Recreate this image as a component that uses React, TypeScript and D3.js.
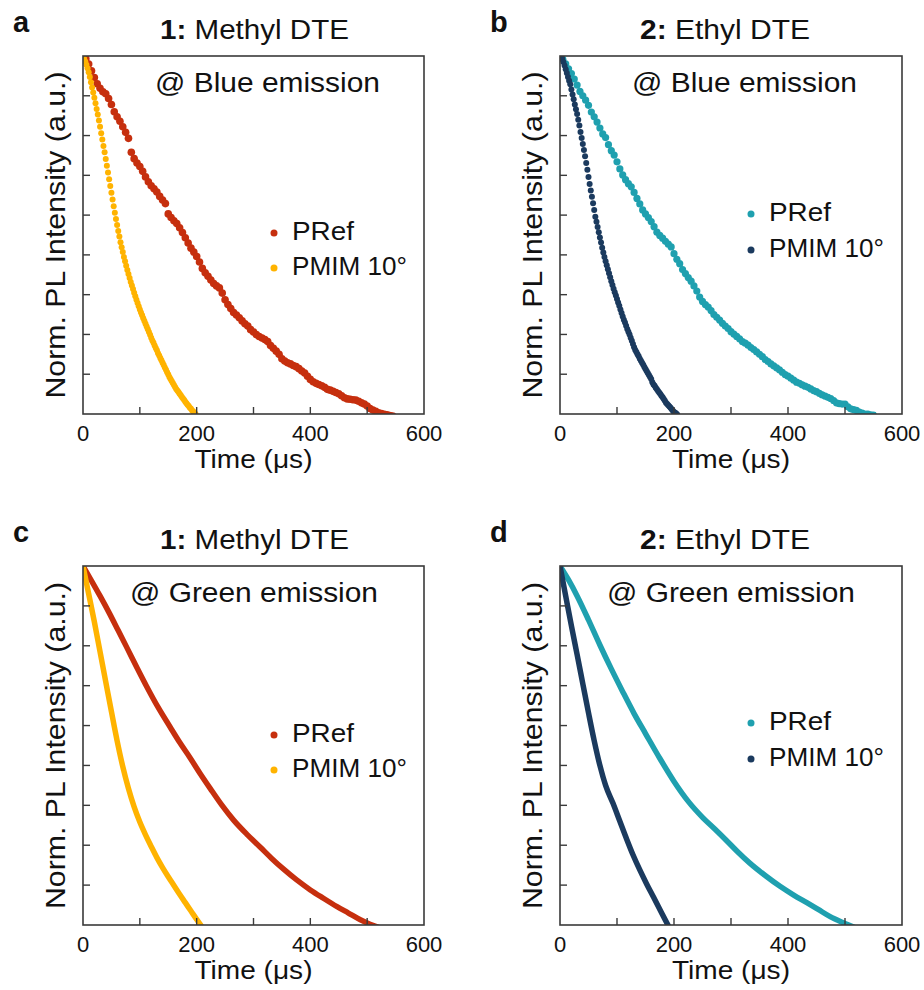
import React from "react";
import * as d3 from "d3";

// ---------- data ----------
const X_TICKS = [100, 200, 300, 400, 500];
const X_TICK_LABELS = [0, 200, 400, 600];
const Y_TICKS = [1, 2, 3, 4, 5, 6, 7, 8];
const PANEL_LETTERS = ["a", "b", "c", "d"];
const COMPOUND_IDS = ["1:", "2:", "1:", "2:"];
const COMPOUND_NAMES = [" Methyl DTE", " Ethyl DTE", " Methyl DTE", " Ethyl DTE"];
const EMISSIONS = ["@ Blue emission", "@ Blue emission", "@ Green emission", "@ Green emission"];
const SERIES_NAMES = ["PRef", "PMIM 10°"];

// Blue emission: sampled decays (normalized log intensity, 9 = top of axis)
const PREF_STEP_US = 5;
const PMIM_STEP_US = 2;

const aPRef = [
  9.0, 8.93, 8.8, 8.63, 8.46, 8.3, 8.19, 8.1, 8.05, 7.93,
  7.78, 7.6, 7.47, 7.36, 7.22, 7.08, 6.93, 6.58, 6.42, 6.31,
  6.22, 6.1, 5.96, 5.84, 5.74, 5.66, 5.58, 5.47, 5.38, 5.29,
  5.03, 4.94, 4.86, 4.79, 4.68, 4.56, 4.43, 4.3, 4.17, 4.07,
  3.96, 3.82, 3.66, 3.55, 3.46, 3.37, 3.28, 3.22, 3.17, 3.04,
  2.87, 2.75, 2.65, 2.55, 2.49, 2.42, 2.34, 2.27, 2.21, 2.12,
  2.06, 2.0, 1.95, 1.91, 1.87, 1.82, 1.72, 1.65, 1.58, 1.5,
  1.39, 1.33, 1.29, 1.26, 1.22, 1.19, 1.14, 1.08, 1.03, 0.95,
  0.87, 0.81, 0.77, 0.74, 0.71, 0.67, 0.62, 0.6, 0.57, 0.54,
  0.51, 0.46, 0.41, 0.38, 0.37, 0.36, 0.35, 0.32, 0.28, 0.25,
  0.2, 0.14, 0.1, 0.07, 0.03, 0.01, -0.01, -0.02, -0.04, -0.05,
];

const aPMIM = [
  9.0, 8.93, 8.86, 8.78, 8.69, 8.59, 8.47, 8.34, 8.21, 8.08,
  7.95, 7.81, 7.67, 7.53, 7.38, 7.22, 7.06, 6.9, 6.74, 6.58,
  6.41, 6.24, 6.07, 5.9, 5.73, 5.56, 5.39, 5.22, 5.06, 4.9,
  4.75, 4.6, 4.46, 4.32, 4.19, 4.07, 3.95, 3.84, 3.73, 3.62,
  3.52, 3.42, 3.32, 3.23, 3.14, 3.05, 2.96, 2.87, 2.79, 2.71,
  2.63, 2.55, 2.48, 2.41, 2.34, 2.27, 2.2, 2.13, 2.06, 1.99,
  1.92, 1.85, 1.79, 1.72, 1.66, 1.6, 1.53, 1.47, 1.41, 1.35,
  1.29, 1.23, 1.17, 1.11, 1.05, 0.99, 0.93, 0.88, 0.83, 0.78,
  0.73, 0.68, 0.63, 0.59, 0.55, 0.51, 0.47, 0.43, 0.39, 0.35,
  0.31, 0.27, 0.23, 0.2, 0.16, 0.13, 0.09, 0.06, 0.03, 0.0,
];

const bPRef = [
  9.0, 8.92, 8.8, 8.68, 8.56, 8.42, 8.27, 8.11, 8.0, 7.89,
  7.76, 7.59, 7.47, 7.34, 7.19, 7.04, 6.95, 6.77, 6.62, 6.51,
  6.34, 6.16, 6.01, 5.89, 5.79, 5.71, 5.57, 5.42, 5.28, 5.13,
  5.03, 4.94, 4.84, 4.71, 4.57, 4.49, 4.42, 4.34, 4.27, 4.2,
  4.03, 3.89, 3.78, 3.63, 3.53, 3.43, 3.34, 3.22, 3.09, 2.94,
  2.83, 2.75, 2.69, 2.6, 2.5, 2.43, 2.36, 2.28, 2.21, 2.15,
  2.07, 2.01, 1.95, 1.89, 1.82, 1.78, 1.73, 1.67, 1.62, 1.56,
  1.5, 1.44, 1.37, 1.32, 1.26, 1.21, 1.16, 1.11, 1.05, 0.99,
  0.95, 0.9, 0.85, 0.8, 0.77, 0.73, 0.7, 0.67, 0.63, 0.59,
  0.56, 0.52, 0.48, 0.45, 0.42, 0.39, 0.34, 0.28, 0.26, 0.25,
  0.25, 0.18, 0.13, 0.11, 0.09, 0.05, 0.02, 0.0, 0.0, -0.02,
  -0.03,
];

const bPMIM = [
  9.0, 8.98, 8.93, 8.85, 8.76, 8.67, 8.57, 8.47, 8.38, 8.29,
  8.16, 8.03, 7.91, 7.78, 7.66, 7.54, 7.4, 7.25, 7.09, 6.94,
  6.79, 6.64, 6.48, 6.31, 6.14, 5.96, 5.78, 5.62, 5.46, 5.3,
  5.13, 4.96, 4.83, 4.7, 4.57, 4.44, 4.31, 4.18, 4.06, 3.95,
  3.84, 3.74, 3.64, 3.54, 3.44, 3.34, 3.24, 3.15, 3.06, 2.98,
  2.89, 2.8, 2.72, 2.63, 2.54, 2.45, 2.37, 2.3, 2.22, 2.14,
  2.07, 2.0, 1.92, 1.84, 1.76, 1.68, 1.61, 1.56, 1.5, 1.45,
  1.39, 1.34, 1.29, 1.24, 1.18, 1.13, 1.08, 1.03, 0.98, 0.93,
  0.88, 0.8, 0.74, 0.71, 0.66, 0.62, 0.58, 0.54, 0.5, 0.46,
  0.42, 0.38, 0.33, 0.28, 0.25, 0.22, 0.19, 0.16, 0.12, 0.08,
  0.05, 0.03, 0.01, -0.02,
];

// Green emission: [time (us), normalized log intensity]
const cPRef: [number, number][] = [
  [0, 9.0], [15, 8.63], [30, 8.25], [47, 7.8], [62, 7.38], [77, 6.96], [95, 6.45],
  [112, 5.98], [132, 5.46], [153, 4.97], [170, 4.58], [188, 4.2], [206, 3.8],
  [224, 3.42], [244, 3.01], [265, 2.63], [288, 2.28], [312, 1.95], [332, 1.67],
  [353, 1.4], [376, 1.13], [400, 0.88], [423, 0.67], [447, 0.46], [467, 0.3],
  [488, 0.13], [505, 0.02], [520, -0.06],
];
const cPMIM: [number, number][] = [
  [0, 9.0], [10, 8.3], [20, 7.6], [30, 6.85], [40, 6.1], [50, 5.35], [60, 4.62],
  [70, 3.97], [80, 3.42], [90, 2.96], [100, 2.58], [110, 2.26], [120, 1.97],
  [130, 1.69], [140, 1.44], [150, 1.21], [160, 0.99], [170, 0.77], [180, 0.56],
  [190, 0.35], [200, 0.14], [208, -0.02],
];
const dPRef: [number, number][] = [
  [0, 9.0], [15, 8.65], [30, 8.25], [50, 7.65], [70, 7.02], [90, 6.42], [110, 5.85],
  [130, 5.3], [150, 4.8], [175, 4.18], [200, 3.6], [225, 3.1], [250, 2.7],
  [272, 2.4], [292, 2.12], [312, 1.83], [333, 1.55], [360, 1.24], [386, 0.97],
  [410, 0.75], [433, 0.56], [453, 0.39], [474, 0.21], [495, 0.07], [515, -0.05],
];
const dPMIM: [number, number][] = [
  [0, 9.0], [10, 8.25], [20, 7.5], [30, 6.78], [40, 6.05], [50, 5.32], [60, 4.62],
  [70, 4.0], [80, 3.5], [93, 3.05], [105, 2.6], [117, 2.15], [128, 1.76],
  [140, 1.38], [152, 1.03], [164, 0.7], [177, 0.34], [190, -0.02],
];

// ---------- styling ----------
const RED = "#C62F0E";
const YELLOW = "#FFB300";
const TEAL = "#1FA0AF";
const NAVY = "#1B3A5E";
const FONT = "'Liberation Sans', Arial, Helvetica, sans-serif";
const AXIS = "#3a3a3a";

type Geo = { left: number; top: number; w: number; h: number };
const GEOS: Geo[] = [
  { left: 83, top: 56, w: 341, h: 358 },
  { left: 560, top: 56, w: 342, h: 358 },
  { left: 83, top: 566, w: 341, h: 359 },
  { left: 560, top: 566, w: 342, h: 359 },
];
const TITLE_CX = [254.5, 725, 254.5, 725];
const TITLE_W = [189, 170, 189, 170];
const EMIS_X = [72, 72, 47, 47];
const EMIS_W = [225, 225, 248, 248];
const LEGEND_BASE = [
  [184, 219],
  [165, 201],
  [176, 211],
  [164, 200],
];

const toPts = (vals: number[], step: number): [number, number][] =>
  vals.map((v, i) => [i * step, v]);

const PANEL_SERIES = [
  { kind: "dots", ref: toPts(aPRef, PREF_STEP_US), pmim: toPts(aPMIM, PMIM_STEP_US), c1: RED, c2: YELLOW, r1: 3.8, r2: 3.0 },
  { kind: "dots", ref: toPts(bPRef, PREF_STEP_US), pmim: toPts(bPMIM, PMIM_STEP_US), c1: TEAL, c2: NAVY, r1: 3.6, r2: 3.0 },
  { kind: "line", ref: cPRef, pmim: cPMIM, c1: RED, c2: YELLOW, r1: 0, r2: 0 },
  { kind: "line", ref: dPRef, pmim: dPMIM, c1: TEAL, c2: NAVY, r1: 0, r2: 0 },
];

function Panel({ i }: { i: number }) {
  const g = GEOS[i];
  const s = PANEL_SERIES[i];
  const x = d3.scaleLinear().domain([0, 600]).range([g.left, g.left + g.w]);
  const y = d3.scaleLinear().domain([0, 9]).range([g.top + g.h, g.top]);
  const clipId = `clip-${i}`;
  const line = d3
    .line<[number, number]>()
    .x((d) => x(d[0]))
    .y((d) => y(d[1]))
    .curve(d3.curveMonotoneX);
  const bottom = g.top + g.h;
  const cx = g.left + g.w / 2;
  const cy = g.top + g.h / 2;
  const [lb1, lb2] = LEGEND_BASE[i];
  const dotX = g.left + 191;

  return (
    <g>
      <defs>
        <clipPath id={clipId}>
          <rect x={g.left} y={g.top} width={g.w} height={g.h} />
        </clipPath>
      </defs>
      {/* panel letter */}
      <text x={g.left - 70} y={g.top - 24} fontSize={29} fontWeight="bold" fontFamily={FONT} fill="#111">
        {PANEL_LETTERS[i]}
      </text>
      {/* title */}
      <text
        x={TITLE_CX[i]}
        y={g.top - 17}
        fontSize={27.5}
        fontFamily={FONT}
        textAnchor="middle"
        fill="#111"
        textLength={TITLE_W[i]}
        lengthAdjust="spacingAndGlyphs"
      >
        <tspan fontWeight="bold">{COMPOUND_IDS[i]}</tspan>
        {COMPOUND_NAMES[i]}
      </text>

      {/* data */}
      <g clipPath={`url(#${clipId})`}>
        {s.kind === "dots" ? (
          <>
            {s.ref.map((d, k) => (
              <circle key={"r" + k} cx={x(d[0])} cy={y(d[1])} r={s.r1} fill={s.c1} />
            ))}
            {s.pmim.map((d, k) => (
              <circle key={"p" + k} cx={x(d[0])} cy={y(d[1])} r={s.r2} fill={s.c2} />
            ))}
          </>
        ) : (
          <>
            <path d={line(s.ref) || ""} fill="none" stroke={s.c1} strokeWidth={5.5} strokeLinecap="round" strokeLinejoin="round" />
            <path d={line(s.pmim) || ""} fill="none" stroke={s.c2} strokeWidth={5.5} strokeLinecap="round" strokeLinejoin="round" />
          </>
        )}
      </g>

      {/* frame */}
      <rect x={g.left} y={g.top} width={g.w} height={g.h} fill="none" stroke={AXIS} strokeWidth={1.6} />
      {/* inward ticks */}
      {X_TICKS.map((t) => (
        <line key={"xt" + t} x1={x(t)} x2={x(t)} y1={bottom} y2={bottom - 7} stroke={AXIS} strokeWidth={1.4} />
      ))}
      {Y_TICKS.map((t) => (
        <line key={"yt" + t} x1={g.left} x2={g.left + 7} y1={y(t)} y2={y(t)} stroke={AXIS} strokeWidth={1.4} />
      ))}
      {X_TICK_LABELS.map((t) => (
        <text key={"xl" + t} x={x(t)} y={bottom + 27} fontSize={22} fontFamily={FONT} textAnchor="middle" fill="#111">
          {t}
        </text>
      ))}
      {/* axis titles */}
      <text
        x={cx}
        y={bottom + 54}
        fontSize={25}
        fontFamily={FONT}
        textAnchor="middle"
        fill="#111"
        textLength={118}
        lengthAdjust="spacingAndGlyphs"
      >
        Time (μs)
      </text>
      <text
        transform={`translate(${g.left - 18},${cy}) rotate(-90)`}
        fontSize={28}
        fontFamily={FONT}
        textAnchor="middle"
        fill="#111"
        textLength={327}
        lengthAdjust="spacingAndGlyphs"
      >
        Norm. PL Intensity (a.u.)
      </text>

      {/* emission label */}
      <text
        x={g.left + EMIS_X[i]}
        y={g.top + 36}
        fontSize={27}
        fontFamily={FONT}
        fill="#111"
        textLength={EMIS_W[i]}
        lengthAdjust="spacingAndGlyphs"
      >
        {EMISSIONS[i]}
      </text>

      {/* legend */}
      <circle cx={dotX} cy={g.top + lb1 - 7} r={3.5} fill={s.c1} />
      <text x={dotX + 18} y={g.top + lb1} fontSize={25} fontFamily={FONT} fill="#111" textLength={62} lengthAdjust="spacingAndGlyphs">
        {SERIES_NAMES[0]}
      </text>
      <circle cx={dotX} cy={g.top + lb2 - 7} r={3.5} fill={s.c2} />
      <text x={dotX + 18} y={g.top + lb2} fontSize={25} fontFamily={FONT} fill="#111" textLength={115} lengthAdjust="spacingAndGlyphs">
        {SERIES_NAMES[1]}
      </text>
    </g>
  );
}

export default function App() {
  return (
    <svg
      width={924}
      height={990}
      viewBox="0 0 924 990"
      style={{ position: "absolute", left: 0, top: 0, background: "#fff" }}
    >
      <rect x={0} y={0} width={924} height={990} fill="#fff" />
      {GEOS.map((_, i) => (
        <Panel key={i} i={i} />
      ))}
    </svg>
  );
}
